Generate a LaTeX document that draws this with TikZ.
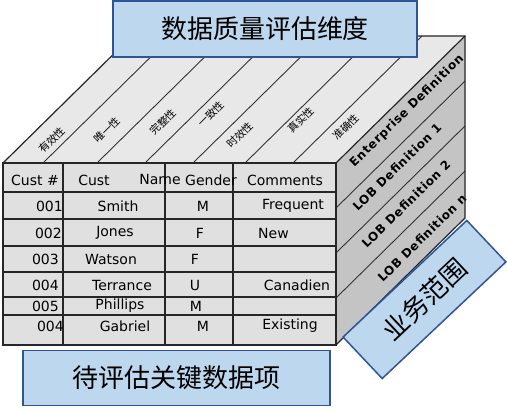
\documentclass[tikz,border=0pt]{standalone}
\usepackage{fontspec}
\usepackage{xcolor}
\usepackage{tikz}
\setmainfont{DejaVu Sans}
\newfontfamily\cjk{Noto Sans CJK SC}
\newfontfamily\lobfont[LetterSpace=6]{DejaVu Sans}
\definecolor{facetop}{RGB}{232,232,232}
\definecolor{faceside}{RGB}{196,196,196}
\definecolor{cellgr}{RGB}{224,224,224}
\definecolor{tagfill}{RGB}{189,215,238}
\definecolor{tagline}{RGB}{47,85,151}

\begin{document}
\begin{tikzpicture}[x=1pt, y=-1pt, font=\fontsize{14}{16}\selectfont,
    tag/.style={draw=tagline, line width=1.5pt, fill=tagfill, inner sep=0pt,
      font=\cjk\fontsize{26}{30}\selectfont},
    dimlab/.style={rotate=45, inner sep=0pt, font=\cjk\fontsize{10.5}{11}\selectfont},
    loblab/.style={rotate=44.5, inner sep=0pt, font=\lobfont\bfseries\fontsize{12}{14}\selectfont},
    cell/.style={inner sep=0pt}]
    \useasboundingbox (0,0) rectangle (507,411);

    % Top face
    \fill[facetop] (3,163) -- (336,163) -- (465,36) -- (132,36) -- cycle;
    \draw[black!80, line width=0.9pt] (43,163) -- ++(129,-127);
    \draw[black!80, line width=0.9pt] (97,163) -- ++(129,-127);
    \draw[black!80, line width=0.9pt] (145,163) -- ++(129,-127);
    \draw[black!80, line width=0.9pt] (193,163) -- ++(129,-127);
    \draw[black!80, line width=0.9pt] (245,163) -- ++(129,-127);
    \draw[black!80, line width=0.9pt] (293,163) -- ++(129,-127);
    \node[dimlab] (d1) at (52,140) {有效性};
    \node[dimlab] (d2) at (107,130) {唯一性};
    \node[dimlab] (d3) at (163,122) {完整性};
    \node[dimlab] (d4) at (211,114) {一致性};
    \node[dimlab] (d5) at (240,135) {时效性};
    \node[dimlab] (d6) at (301,120) {真实性};
    \node[dimlab] (d7) at (346,127) {准确性};

    % Side face
    \fill[faceside] (336,163) -- (465,36) -- (465,218) -- (336,345) -- cycle;
    \draw[black!80, line width=0.9pt] (336,208) -- ++(129,-127);
    \draw[black!80, line width=0.9pt] (336,253) -- ++(129,-127);
    \draw[black!80, line width=0.9pt] (336,298) -- ++(129,-127);
    \node[loblab] (s1) at (407,111) {Enterprise Definition};
    \node[loblab] (s2) at (397,167) {LOB Definition 1};
    \node[loblab] (s3) at (406,204) {LOB Definition 2};
    \node[loblab] (s4) at (422,238) {LOB Definition n};

    % Cube outline
    \draw[black!85, line width=1.2pt] (3,163) -- (132,36) -- (465,36) -- (465,218) -- (336,345);
    \draw[black!85, line width=1.2pt] (336,163) -- (465,36);

    % Front face (table)
    \fill[cellgr] (3,163) rectangle (336,345);
    \draw[black!85, line width=1.2pt] (3,163) rectangle (336,345);
    \draw[black!85, line width=1.1pt] (63,163) -- (63,345);
    \draw[black!85, line width=1.1pt] (165,163) -- (165,345);
    \draw[black!85, line width=1.1pt] (233,163) -- (233,345);
    \draw[black!85, line width=2pt] (3,192) -- (336,192);
    \draw[black!85, line width=1.1pt] (3,219) -- (336,219);
    \draw[black!85, line width=1.1pt] (3,246) -- (336,246);
    \draw[black!85, line width=1.1pt] (3,272) -- (336,272);
    \draw[black!85, line width=1.1pt] (3,297) -- (336,297);
    \draw[black!85, line width=1.1pt] (3,315) -- (336,315);

    % Header
    \node[cell] (h1) at (35,180) {Cust \#};
    \node[cell] (h2) at (94,180) {Cust};
    \node[cell] (h3) at (160,180) {Name};
    \node[cell] (h4) at (211,180) {Gender};
    \node[cell] (h5) at (285,180) {Comments};

    % Rows
    \node[cell, anchor=east] (n1) at (63,206) {001};
    \node[cell] (c1) at (118,206) {Smith};
    \node[cell] (g1) at (203,206) {M};
    \node[cell] (m1) at (293,206) {Frequent};
    \node[cell, anchor=east] (n2) at (62,233) {002};
    \node[cell] (c2) at (115,233) {Jones};
    \node[cell] (g2) at (200,233) {F};
    \node[cell, anchor=west] (m2) at (258,233) {New};
    \node[cell, anchor=east] (n3) at (59,259) {003};
    \node[cell] (c3) at (111,259) {Watson};
    \node[cell] (g3) at (195,259) {F};
    \node[cell, anchor=east] (n4) at (59,285) {004};
    \node[cell] (c4) at (122,285) {Terrance};
    \node[cell] (g4) at (195,285) {U};
    \node[cell] (m4) at (297,285) {Canadien};
    \node[cell, anchor=east] (n5) at (59,306) {005};
    \node[cell] (c5) at (120,306) {Phillips};
    \node[cell] (g5) at (196,306) {M};
    \node[cell, anchor=east] (n6) at (64,326) {004};
    \node[cell] (c6) at (125,326) {Gabriel};
    \node[cell] (g6) at (203,326) {M};
    \node[cell] (m6) at (290,326) {Existing};

    % Tags
    \node[tag, minimum width=304pt, minimum height=56pt] (dimtag) at (265,29) {数据质量评估维度};
    \node[tag, minimum width=307pt, minimum height=55pt] (itemtag) at (176.5,378) {待评估关键数据项};
    \node[tag, rotate=43.3, minimum width=170pt, minimum height=57pt] (scopetag) at (424.5,299.5) {业务范围};
\end{tikzpicture}
\end{document}
